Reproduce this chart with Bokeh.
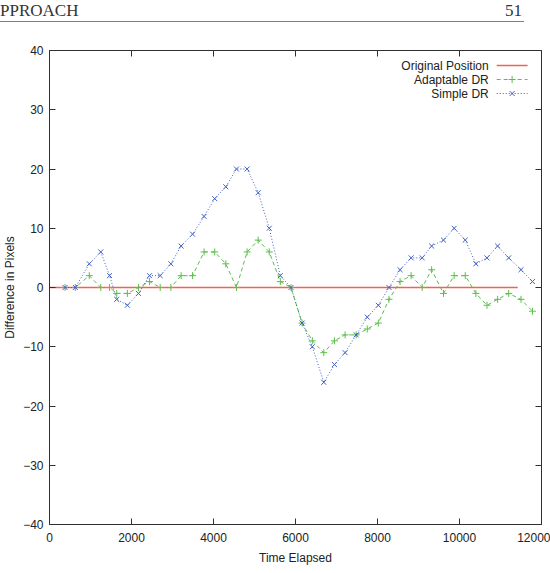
from bokeh.plotting import figure
from bokeh.models import LinearAxis, FixedTicker, Range1d, Div
from bokeh.layouts import column
from bokeh.core.properties import value
from bokeh.embed import file_html
from bokeh.resources import INLINE

# ---- data ----
time = [380, 630, 970, 1250, 1465, 1640, 1900, 2170, 2440, 2700, 2960, 3210,
        3490, 3770, 4030, 4300, 4560, 4820, 5090, 5360, 5630, 5890, 6160, 6410,
        6690, 6950, 7210, 7480, 7750, 8020, 8280, 8550, 8820, 9090, 9320, 9610,
        9870, 10140, 10400, 10670, 10930, 11200, 11500, 11780]
simple_dr = [0, 0, 4, 6, 2, -2, -3, -1, 2, 2, 4, 7,
             9, 12, 15, 17, 20, 20, 16, 10, 2, 0, -6, -10,
             -16, -13, -11, -8, -5, -3, 0, 3, 5, 5, 7, 8,
             10, 8, 4, 5, 7, 5, 3, 1]
adaptable_dr = [0, 0, 2, 0, 0, -1, -1, 0, 1, 0, 0, 2,
                2, 6, 6, 4, 0, 6, 8, 6, 1, 0, -6, -9,
                -11, -9, -8, -8, -7, -6, -2, 1, 2, 0, 3, -1,
                2, 2, -1, -3, -2, -1, -2, -4]
original_time = [0, 11420]
original_pos = [0, 0]
x_ticks = [0, 2000, 4000, 6000, 8000, 10000, 12000]
y_ticks = [-40, -30, -20, -10, 0, 10, 20, 30, 40]
legend_labels = ["Original Position", "Adaptable DR", "Simple DR"]
header_left = "PPROACH"
header_right = "51"

RED = "#ee6352"
GREEN = "#5cbf4c"
BLUE = "#3f5fc4"
AX = "#303030"
FONT = "Liberation Sans"
FS = "12px"

HDR = 24
W, H = 550, 573 - HDR
L, R, T, B = 47, 9, 50 - HDR, 49
FW, FH = W - L - R, H - T - B

header = Div(
    text=(
        '<div style="position:relative;width:524px;height:22px;'
        'border-bottom:1px solid #808080;font-family:\'Liberation Serif\',serif;'
        'font-size:17px;color:#333;line-height:normal;">'
        f'<span style="position:absolute;left:0;top:1px;">{header_left}</span>'
        f'<span style="position:absolute;right:2px;top:1px;">{header_right}</span>'
        '</div>'
    ),
    width=550, height=HDR, margin=0,
)

p = figure(width=W, height=H, x_range=Range1d(0, 12000), y_range=Range1d(-40, 40),
           output_backend="svg", toolbar_location=None,
           min_border_left=L, min_border_right=R, min_border_top=T, min_border_bottom=B,
           x_axis_label="Time Elapsed", y_axis_label="Difference in Pixels")
p.grid.visible = False
p.outline_line_color = AX
p.outline_line_width = 1
p.background_fill_color = "white"
p.border_fill_color = "white"

for ax in (p.xaxis[0], p.yaxis[0]):
    ax.major_tick_in = 6
    ax.major_tick_out = 0
    ax.minor_tick_line_color = None
    ax.axis_line_color = AX
    ax.major_tick_line_color = AX
    ax.major_label_text_font = FONT
    ax.major_label_text_font_size = FS
    ax.major_label_text_color = "#222222"
    ax.axis_label_text_font = FONT
    ax.axis_label_text_font_size = FS
    ax.axis_label_text_font_style = "normal"
    ax.axis_label_text_color = "#222222"
p.xaxis.ticker = FixedTicker(ticks=x_ticks)
p.yaxis.ticker = FixedTicker(ticks=y_ticks)
p.xaxis.major_label_standoff = 8
p.xaxis.axis_label_standoff = 6
p.yaxis.major_label_standoff = 6
p.yaxis.axis_label_standoff = 3

# mirrored ticks on top and right (no labels)
for loc, ticks in (("above", x_ticks), ("right", y_ticks)):
    extra = LinearAxis(ticker=FixedTicker(ticks=ticks), major_tick_in=6, major_tick_out=0,
                       minor_tick_line_color=None, major_label_text_font_size="0px",
                       major_label_text_color=None, major_label_standoff=0,
                       axis_line_color=AX, major_tick_line_color=AX)
    p.add_layout(extra, loc)

# series
p.line(original_time, original_pos, line_color=RED, line_width=1.3)
p.line(time, adaptable_dr, line_color=GREEN, line_width=1, line_dash="4 3")
p.scatter(time, adaptable_dr, marker="cross", size=7, line_color=GREEN, line_width=1)
p.line(time, simple_dr, line_color=BLUE, line_width=1, line_dash="1 2")
p.scatter(time, simple_dr, marker="x", size=7, line_color=BLUE, line_width=1)

# gnuplot-style key (text right, sample to the right), positioned in frame fractions
def dx(px):
    return (px - L) / FW * 12000

def dy(py):
    return 40 - (py - 50) / FH * 80

rows = [65, 79, 93]
p.text([dx(488)] * 3, [dy(r) for r in rows], text=legend_labels,
       text_align="right", text_baseline="middle", text_font=value(FONT),
       text_font_size=FS, text_color="#222222")
p.segment(dx(496), dy(rows[0]), dx(527), dy(rows[0]), line_color=RED, line_width=1.3)
p.segment(dx(496), dy(rows[1]), dx(527), dy(rows[1]), line_color=GREEN, line_dash="4 3")
p.scatter([dx(511.5)], [dy(rows[1])], marker="cross", size=7, line_color=GREEN)
p.segment(dx(496), dy(rows[2]), dx(527), dy(rows[2]), line_color=BLUE, line_dash="1 2")
p.scatter([dx(511.5)], [dy(rows[2])], marker="x", size=7, line_color=BLUE)

layout = column(header, p, spacing=0)
open("out.html", "w").write(file_html(layout, INLINE))
